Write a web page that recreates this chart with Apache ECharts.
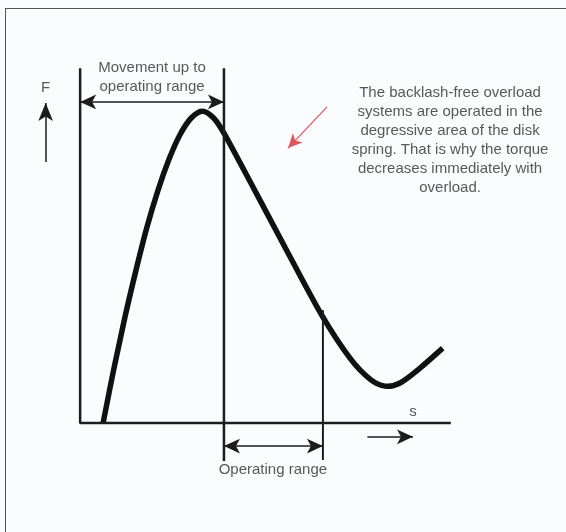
<!DOCTYPE html>
<html>
<head>
<meta charset="utf-8">
<script src="https://cdn.jsdelivr.net/npm/echarts@6/dist/echarts.min.js"></script>
<style>
  html, body { margin: 0; padding: 0; background: #fbfcfd; }
  #wrap { position: relative; width: 566px; height: 532px; overflow: hidden; }
  #chart { width: 566px; height: 532px; }
  #frame {
    position: absolute; left: 5px; top: 8px; width: 600px; height: 600px;
    border-top: 1.5px solid #555; border-left: 1.5px solid #555;
    pointer-events: none;
  }
</style>
</head>
<body>
<div id="wrap">
  <div id="chart"></div>
  <div id="frame"></div>
</div>
<script>
// Disk spring characteristic: force F over spring travel s (relative units)
const springTravel = [6.2, 9.1, 12.1, 15.1, 18.0, 21.0, 24.0, 26.9, 29.9, 32.9, 35.8,
                      38.8, 47.2, 55.8, 65.3, 72.8, 78.2, 82.3, 86.3, 91.7, 97.8];
const springForce  = [0.0, 15.3, 29.9, 43.2, 55.1, 65.6, 74.4, 81.2, 85.9, 87.9, 86.2,
                      81.7, 65.4, 48.5, 30.2, 18.3, 12.4, 10.4, 11.3, 15.5, 21.1];

// Axis frame: F axis from top down to origin, then s axis to the right
const frameS = [0, 0, 100];
const frameF = [100, 0, 0];

// Limits of the operating range on the travel axis
const operatingStart = 38.8;
const operatingEnd = 65.5;
const startGuideF = [100, -10.7];
const endGuideF = [31.8, -10.4];

// Dimension arrows [s1, F1, s2, F2]
const approachArrow = [0, 90.5, operatingStart, 90.5];
const rangeArrow = [operatingStart, -6.5, operatingEnd, -6.5];
const travelArrow = [77.5, -3.9, 89.8, -3.9];
const forceArrow = [-9.3, 73.6, -9.3, 90.2];
const noteArrow = [66.6, 89.1, 56.1, 77.5];

// Text labels
const labelTexts = [
  'Movement up to\noperating range',
  'F',
  's',
  'Operating range',
  'The backlash-free overload\nsystems are operated in the\ndegressive area of the disk\nspring. That is why the torque\ndecreases immediately with\noverload.'
];
const labelS = [19.4, -9.3, 89.8, 52.0, 99.8];
const labelF = [97.4, 94.4, 3.1, -13.1, 79.8];

const ink = '#1c1c1c';
const textColor = '#2e2e2e';
const font = '"Liberation Sans", Arial, sans-serif';

function zip(xs, ys) { return xs.map((x, i) => [x, ys[i]]); }
function arrowLine(a, both, color, width, size) {
  return [
    { coord: [a[0], a[1]], symbol: both ? 'arrow' : 'none', symbolSize: size },
    { coord: [a[2], a[3]], symbol: 'arrow', symbolSize: size,
      lineStyle: { color: color, width: width }, itemStyle: { color: color } }
  ];
}

// Smooth spline (Catmull-Rom as cubic Béziers) through the curve points
function springPath(params, api) {
  if (params.dataIndex !== 0) return null;
  const pts = springTravel.map((s, i) => api.coord([s, springForce[i]]));
  let d = 'M' + pts[0][0] + ',' + pts[0][1];
  for (let i = 0; i < pts.length - 1; i++) {
    const p0 = pts[Math.max(i - 1, 0)];
    const p1 = pts[i];
    const p2 = pts[i + 1];
    const p3 = pts[Math.min(i + 2, pts.length - 1)];
    const c1 = [p1[0] + (p2[0] - p0[0]) / 6, p1[1] + (p2[1] - p0[1]) / 6];
    const c2 = [p2[0] - (p3[0] - p1[0]) / 6, p2[1] - (p3[1] - p1[1]) / 6];
    d += 'C' + c1[0] + ',' + c1[1] + ' ' + c2[0] + ',' + c2[1] + ' ' + p2[0] + ',' + p2[1];
  }
  return {
    type: 'path',
    shape: { pathData: d },
    style: { fill: 'none', stroke: '#111', lineWidth: 5.5, lineCap: 'butt', lineJoin: 'round' }
  };
}

const chart = echarts.init(document.getElementById('chart'), null, { renderer: 'canvas' });

chart.setOption({
  animation: false,
  backgroundColor: 'transparent',
  grid: { left: 6, right: 4, top: 15, bottom: 38 },
  xAxis: { type: 'value', min: -20, max: 130, show: false },
  yAxis: { type: 'value', min: -20, max: 115, show: false },
  series: [
    {
      name: 'axes', type: 'line', data: zip(frameS, frameF),
      symbol: 'none', silent: true,
      lineStyle: { color: ink, width: 2.5 }
    },
    {
      name: 'start of operating range', type: 'line',
      data: zip([operatingStart, operatingStart], startGuideF),
      symbol: 'none', silent: true,
      lineStyle: { color: ink, width: 2.5 }
    },
    {
      name: 'end of operating range', type: 'line',
      data: zip([operatingEnd, operatingEnd], endGuideF),
      symbol: 'none', silent: true,
      lineStyle: { color: ink, width: 2 }
    },
    {
      name: 'spring force', type: 'custom', silent: true,
      data: zip(springTravel, springForce),
      encode: { x: 0, y: 1 },
      renderItem: springPath
    },
    {
      name: 'arrows', type: 'line', data: [], silent: true,
      markLine: {
        silent: true, animation: false,
        label: { show: false },
        emphasis: { disabled: true },
        lineStyle: { type: 'solid', color: ink, width: 1.5 },
        data: [
          arrowLine(approachArrow, true, ink, 1.5, [11, 16]),
          arrowLine(rangeArrow, true, ink, 1.5, [11, 16]),
          arrowLine(travelArrow, false, ink, 1.5, [11, 16]),
          arrowLine(forceArrow, false, ink, 1.5, [11, 18]),
          arrowLine(noteArrow, false, '#e0555c', 1.2, [10, 14])
        ]
      }
    },
    {
      name: 'labels', type: 'scatter', symbolSize: 0, silent: true,
      data: labelTexts.map((t, i) => ({ value: [labelS[i], labelF[i]], name: t })),
      label: {
        show: true, position: 'inside',
        formatter: p => p.name,
        color: textColor, fontFamily: font, fontSize: 15,
        lineHeight: 19, align: 'center', verticalAlign: 'middle'
      }
    }
  ]
});
</script>
</body>
</html>
